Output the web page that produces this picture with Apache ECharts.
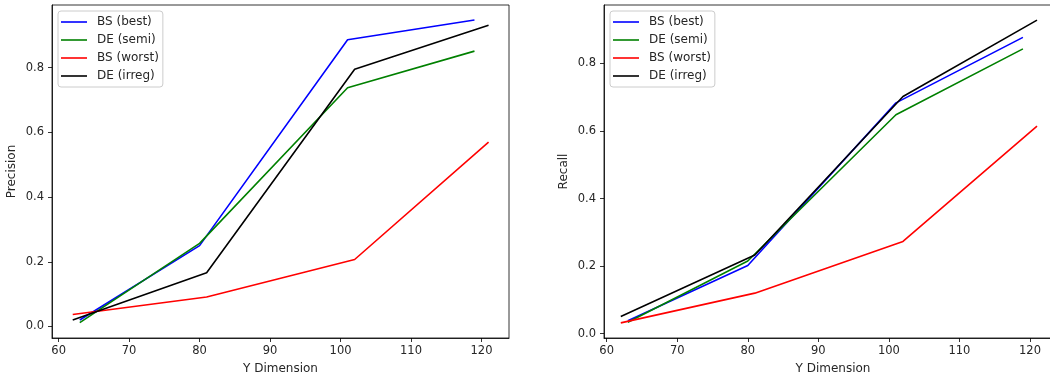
<!DOCTYPE html>
<html>
<head>
<meta charset="utf-8">
<script src="https://cdn.jsdelivr.net/npm/echarts@6/dist/echarts.min.js"></script>
<style>html,body{margin:0;padding:0;background:#fff}#c{width:1050px;height:381px}</style>
</head>
<body>
<div id="c"></div>
<script>
// Data
var seriesNames = ['BS (best)', 'DE (semi)', 'BS (worst)', 'DE (irreg)'];
var seriesColors = ['#0000ff', '#008000', '#ff0000', '#000000'];
var xBestSemi = [63, 80, 101, 119];
var xWorstIrreg = [62, 81, 102, 121];
var precisionBest = [0.020, 0.250, 0.886, 0.947];
var precisionSemi = [0.012, 0.257, 0.738, 0.851];
var precisionWorst = [0.037, 0.091, 0.207, 0.570];
var precisionIrreg = [0.020, 0.166, 0.795, 0.931];
var recallBest = [0.038, 0.202, 0.683, 0.877];
var recallSemi = [0.034, 0.215, 0.648, 0.843];
var recallWorst = [0.032, 0.120, 0.273, 0.614];
var recallIrreg = [0.051, 0.233, 0.702, 0.928];
var xTicks = [60, 70, 80, 90, 100, 110, 120];
var yTicks = [0.0, 0.2, 0.4, 0.6, 0.8];

function pairs(xs, ys) { return xs.map(function (x, i) { return [x, ys[i]]; }); }

var font = 'DejaVu Sans';
var txt = '#262626';

function xAxisCfg(gi, min, max) {
  return {
    type: 'value', gridIndex: gi, min: min, max: max,
    name: 'Y Dimension', nameLocation: 'middle', nameGap: 25,
    nameTextStyle: { fontFamily: font, fontSize: 12, color: txt },
    axisLine: { onZero: false, lineStyle: { color: '#000', width: 0.8 } },
    axisTick: { show: true, length: 4, lineStyle: { color: '#000', width: 0.8 }, customValues: xTicks },
    axisLabel: { fontFamily: font, fontSize: 11.5, color: txt, margin: 7, customValues: xTicks, formatter: function (v) { return String(v); } },
    splitLine: { show: false }
  };
}
function yAxisCfg(gi, name, min, max) {
  return {
    type: 'value', gridIndex: gi, min: min, max: max,
    name: name, nameLocation: 'middle', nameGap: 34,
    nameTextStyle: { fontFamily: font, fontSize: 12, color: txt },
    axisLine: { show: true, onZero: false, lineStyle: { color: '#000', width: 0.8 } },
    axisTick: { show: true, length: 4, lineStyle: { color: '#000', width: 0.8 }, customValues: yTicks },
    axisLabel: { fontFamily: font, fontSize: 11.5, color: txt, margin: 8, customValues: yTicks, formatter: function (v) { return v.toFixed(1); } },
    splitLine: { show: false }
  };
}
function legendCfg(left) {
  return {
    left: left, top: 11, orient: 'vertical',
    data: seriesNames.map(function (n) { return { name: n, icon: 'rect' }; }),
    itemWidth: 26, itemHeight: 1.6, itemGap: 4,
    padding: [4, 4, 4, 3],
    backgroundColor: 'rgba(255,255,255,0.8)',
    borderColor: '#cccccc', borderWidth: 1, borderRadius: 3,
    textStyle: { fontFamily: font, fontSize: 12, color: txt, lineHeight: 14, height: 14, padding: [0, 0, 0, 5] },
    itemStyle: { borderWidth: 0 },
    selectedMode: false
  };
}
function mkSeries(gi, datas) {
  return datas.map(function (d, i) {
    return {
      name: seriesNames[i], type: 'line', xAxisIndex: gi, yAxisIndex: gi,
      data: d, symbol: 'none', showSymbol: false,
      lineStyle: { color: seriesColors[i], width: 1.6 },
      itemStyle: { color: seriesColors[i] },
      animation: false, z: 2
    };
  });
}

var chart = echarts.init(document.getElementById('c'));
chart.setOption({
  animation: false,
  backgroundColor: '#fff',
  grid: [
    { left: 52, width: 457, top: 5, bottom: 43, outerBoundsMode: 'none', containLabel: false, show: true, borderColor: '#000', borderWidth: 0.8, backgroundColor: 'transparent' },
    { left: 604, width: 458, top: 5, bottom: 43, outerBoundsMode: 'none', containLabel: false, show: true, borderColor: '#000', borderWidth: 0.8, backgroundColor: 'transparent' }
  ],
  legend: [legendCfg(58), legendCfg(610)],
  xAxis: [xAxisCfg(0, 59.06, 123.9), xAxisCfg(1, 59.62, 124.54)],
  yAxis: [yAxisCfg(0, 'Precision', -0.0355, 0.9935), yAxisCfg(1, 'Recall', -0.0128, 0.9728)],
  series: mkSeries(0, [
    pairs(xBestSemi, precisionBest), pairs(xBestSemi, precisionSemi),
    pairs(xWorstIrreg, precisionWorst), pairs(xWorstIrreg, precisionIrreg)
  ]).concat(mkSeries(1, [
    pairs(xBestSemi, recallBest), pairs(xBestSemi, recallSemi),
    pairs(xWorstIrreg, recallWorst), pairs(xWorstIrreg, recallIrreg)
  ]))
});
</script>
</body>
</html>
